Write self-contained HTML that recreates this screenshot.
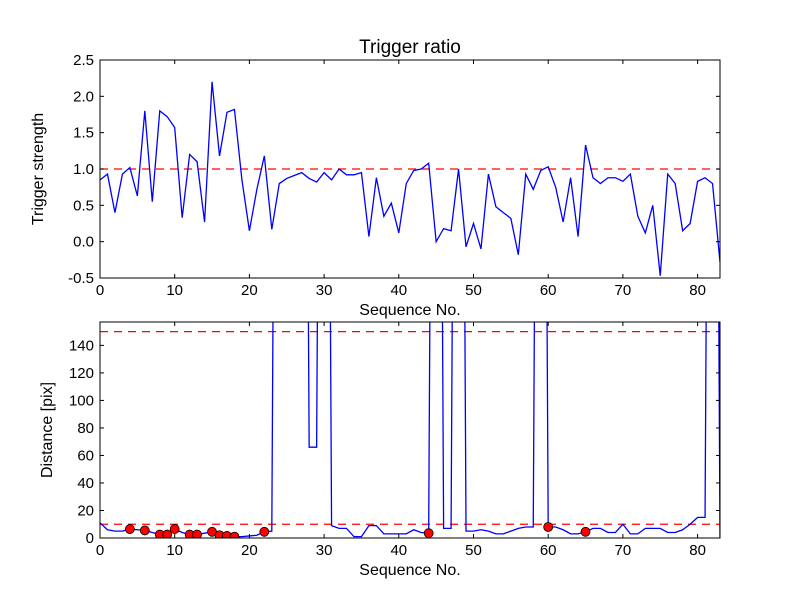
<!DOCTYPE html>
<html><head><meta charset="utf-8"><style>
body{margin:0;background:#fff;}
svg{display:block;font-family:"Liberation Sans","DejaVu Sans",sans-serif;}
</style></head><body>
<svg id="c" width="800" height="600">
<defs>
<clipPath id="cp1"><rect x="100" y="60" width="620" height="218"/></clipPath>
<clipPath id="cp2"><rect x="100" y="322" width="620" height="216"/></clipPath>
</defs>
</svg>
<script>
const strength=[0.85,0.93,0.4,0.93,1.02,0.63,1.8,0.55,1.8,1.72,1.57,0.33,1.2,1.1,0.27,2.2,1.18,1.78,1.82,0.85,0.15,0.72,1.18,0.17,0.8,0.87,0.91,0.95,0.87,0.82,0.95,0.85,1.0,0.92,0.92,0.95,0.07,0.88,0.35,0.53,0.12,0.8,0.98,1.0,1.08,0.0,0.18,0.15,1.0,-0.07,0.25,-0.1,0.93,0.48,0.4,0.32,-0.18,0.93,0.72,0.98,1.03,0.75,0.27,0.88,0.07,1.33,0.88,0.8,0.88,0.88,0.83,0.93,0.35,0.12,0.5,-0.47,0.93,0.8,0.15,0.25,0.83,0.88,0.8,-0.28];
const distance=[11,6,5,5,6.5,6,5.5,4,2.5,2.5,6.5,4,2.5,2.5,3.5,4.5,2,1.5,1,1,1.5,2,4.5,5,1000,1000,1000,1000,66,66,1000,9,7,7,1,1,9,9,3,3,3,3,6,4,3.5,1000,7,7,1000,5,5,6,5,3,3,5,7,8,8,1000,8,8,6,3,3,4.5,7,7,4,4,10,3,3,7,7,7,4,4,6,10,15,15,1000,0];
const markerIdx=[4,6,8,9,10,12,13,15,16,17,18,22,44,60,65];
const topTicksY=[-0.5,0.0,0.5,1.0,1.5,2.0,2.5];
const botTicksY=[0,20,40,60,80,100,120,140];
const ticksX=[0,10,20,30,40,50,60,70,80];
const topThresh=1.0, botThresh=[10,150];

const NS="http://www.w3.org/2000/svg";
const svg=document.getElementById('c');
function mk(t,a,p){const e=document.createElementNS(NS,t);for(const k in a)e.setAttribute(k,a[k]);(p||svg).appendChild(e);return e;}
const X=v=>100+v*620/83;
const Y1=v=>60+(2.5-v)*218/3;
const Y2=v=>538-v*216/157;

function axes(top,bot,ticksY,Y,fmt,ylab,name){
  const g=mk('g',{});
  
  
  ticksX.forEach(t=>{
    const x=X(t);
    mk('line',{x1:x,x2:x,y1:bot,y2:bot-4,stroke:'#000'},g);
    mk('line',{x1:x,x2:x,y1:top,y2:top+4,stroke:'#000'},g);
    const tx=mk('text',{x:x,y:bot+17,'text-anchor':'middle','font-size':'15'},g);tx.textContent=t;
    
    
  });
  ticksY.forEach(t=>{
    const y=Y(t);
    mk('line',{x1:100,x2:104,y1:y,y2:y,stroke:'#000'},g);
    mk('line',{x1:720,x2:716,y1:y,y2:y,stroke:'#000'},g);
    const tx=mk('text',{x:94,y:y+5,'text-anchor':'end','font-size':'15'},g);tx.textContent=fmt(t);
    
    
  });
  const xl=mk('text',{x:410,y:bot+37,'text-anchor':'middle','font-size':'16'},g);xl.textContent='Sequence No.';
  
  
  const yl=mk('text',{x:0,y:0,'text-anchor':'middle','font-size':'16',transform:`translate(${name==='top'?43:52},${(top+bot)/2}) rotate(-90)`},g);yl.textContent=ylab;
  
  
}

// top
const r1=mk('rect',{x:100,y:60,width:620,height:218,fill:'#fff'});


const g1=mk('g',{'clip-path':'url(#cp1)'});
const th1=mk('line',{x1:100,x2:720,y1:Y1(topThresh),y2:Y1(topThresh),stroke:'#f00','stroke-dasharray':'8,6','stroke-width':1.3},g1);


const l1=mk('polyline',{points:strength.map((v,i)=>X(i)+','+Y1(v)).join(' '),fill:'none',stroke:'#00f','stroke-width':1.3},g1);


mk('rect',{x:100,y:60,width:620,height:218,fill:'none',stroke:'#000'});
axes(60,278,topTicksY,Y1,v=>v.toFixed(1),'Trigger strength','top');
const tt=mk('text',{x:410,y:53,'text-anchor':'middle','font-size':'19'});tt.textContent='Trigger ratio';



// bottom
const g2=mk('g',{'clip-path':'url(#cp2)'});
botThresh.forEach(t=>{
  const l=mk('line',{x1:100,x2:720,y1:Y2(t),y2:Y2(t),stroke:'#f00','stroke-dasharray':'8,6','stroke-width':1.3},g2);
  
  
});
const l2=mk('polyline',{points:distance.map((v,i)=>X(i)+','+Y2(v)).join(' '),fill:'none',stroke:'#00f','stroke-width':1.3},g2);


markerIdx.forEach(i=>{
  const c=mk('circle',{cx:X(i),cy:Y2(distance[i]),r:4.5,fill:'#f00',stroke:'#000','stroke-width':0.8},g2);
  
  
});
mk('rect',{x:100,y:322,width:620,height:216,fill:'none',stroke:'#000'});
axes(322,538,botTicksY,Y2,v=>String(v),'Distance [pix]','bottom');
</script>
</body></html>
